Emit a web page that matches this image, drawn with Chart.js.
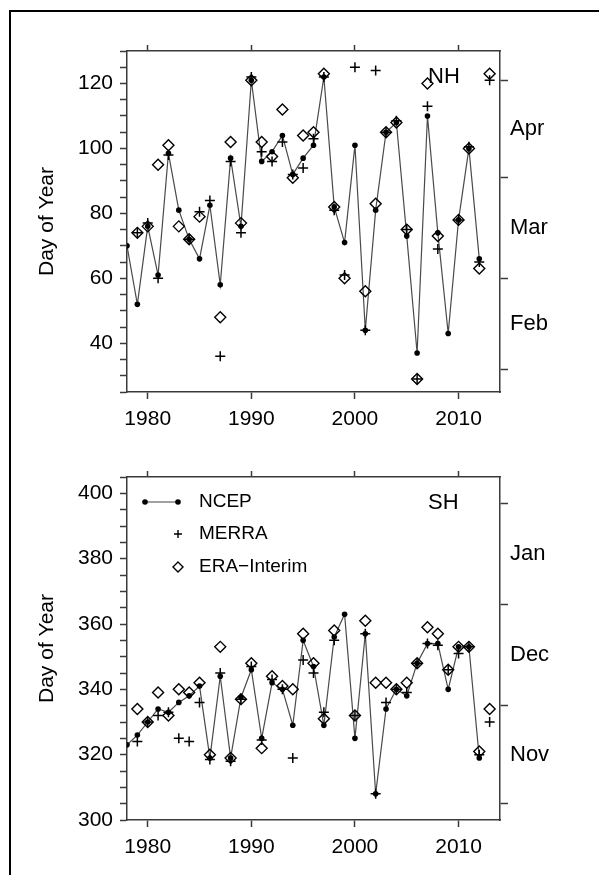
<!DOCTYPE html>
<html>
<head>
<meta charset="utf-8">
<script src="https://cdn.jsdelivr.net/npm/chart.js@4.4.1/dist/chart.umd.min.js"></script>
<style>
  html, body { margin: 0; padding: 0; background: #fff; }
  body { width: 599px; height: 875px; position: relative; overflow: hidden; }
  .frame { position: absolute; left: 9px; top: 10px; width: 640px; height: 900px; border: 2px solid #000; }
  .panel { position: absolute; left: 0; width: 599px; }
</style>
</head>
<body>
<div class="frame"></div>
<div class="panel" style="top:0; height:440px"><canvas id="nh"></canvas></div>
<div class="panel" style="top:426px; height:449px"><canvas id="sh"></canvas></div>
<script>
const years = [1978, 1979, 1980, 1981, 1982, 1983, 1984, 1985, 1986, 1987, 1988, 1989,
  1990, 1991, 1992, 1993, 1994, 1995, 1996, 1997, 1998, 1999, 2000, 2001,
  2002, 2003, 2004, 2005, 2006, 2007, 2008, 2009, 2010, 2011, 2012, 2013];

// Northern Hemisphere (day of year)
const nhNcep = [70, 52, 76, 61, 98.5, 81, 72, 66, 82.5, 58, 97, 76,
  121, 96, 99, 104, 92, 97, 101, 122, 82, 71, 101, 44,
  81, 105, 108, 73, 37, 110, 74, 43, 78, 100, 66, null];
const nhMerra = [null, 74, 77, 60, 98, null, 72, 80.5, 84, 36, 96, 74,
  122, 99, 96, 102, 92, 94, 103, 122, 81, 61, 125, 44,
  124, 105, 108.5, 75, 29, 113, 69, null, 78, 100.5, 65, 121];
const nhEra = [null, 74, 76, 95, 101, 76, 72, 79, null, 48, 102, 77,
  121, 102, 97.5, 112, 91, 104, 105, 123, 82, 60, null, 56,
  83, 105, 108, 75, 29, 120, 73, null, 78, 100, 63, 123];

// Southern Hemisphere (day of year, counted past 365)
const shNcep = [323, 326, 330, 334, 333, 336, 338, 341, 319, 344, 319, 337.5,
  346, 325, 342, 340, 329, 355, 347, 329, 356, 363, 325, 357,
  308, 334, 340, 338, 348, 354, 354, 340, 353, 353, 319, null];
const shMerra = [null, 324, 330, 332, 333, 325, 324, 336, 318.5, 345, 318, 337,
  347, 324.5, 343, 340, 319, 349, 345, 333, 355, null, 332, 357,
  308, 336, 340, 339, 348, 354, 353.5, 346, 351, 353, 320, 330];
const shEra = [null, 334, 330, 339, 332, 340, 339, 342, 320, 353, 319, 337,
  348, 322, 344, 341, 340, 357, 348, 331, 358, null, 332, 361,
  342, 342, 340, 342, 348, 359, 357, 346, 353, 353, 321, 334];

const yearTicks = [1980, 1990, 2000, 2010];
const nhLabels = [40, 60, 80, 100, 120];
const shLabels = [300, 320, 340, 360, 380, 400];
const nhMonthEdges = [32, 60, 91, 121];
const nhMonths = ['Feb', 'Mar', 'Apr'];
const shMonthEdges = [305, 335, 366, 397];
const shMonths = ['Nov', 'Dec', 'Jan'];

const FONT = '"Liberation Sans", Arial, Helvetica, sans-serif';
const AXIS = '#3a3a3a';

const panelText = {
  id: 'panelText',
  afterDatasetsDraw(chart, args, opts) {
    const ctx = chart.ctx, a = chart.chartArea;
    ctx.save();
    ctx.fillStyle = '#000';
    ctx.textBaseline = 'middle';
    ctx.font = '22px ' + FONT;
    ctx.fillText(opts.text, a.left + 301, a.top + 26);
    if (opts.legend) {
      const ds = chart.data.datasets;
      const x0 = a.left + 18, x1 = a.left + 51, tx = a.left + 72;
      const y1 = a.top + 25, y2 = a.top + 57, y3 = a.top + 90;
      ctx.font = '19px ' + FONT;
      // NCEP: line with dots
      ctx.strokeStyle = '#444';
      ctx.lineWidth = 1.2;
      ctx.beginPath(); ctx.moveTo(x0, y1); ctx.lineTo(x1, y1); ctx.stroke();
      ctx.fillStyle = '#000';
      [x0, x1].forEach(x => { ctx.beginPath(); ctx.arc(x, y1, 2.8, 0, Math.PI * 2); ctx.fill(); });
      // MERRA: plus
      ctx.strokeStyle = '#000';
      ctx.lineWidth = 1.4;
      ctx.beginPath();
      ctx.moveTo(x1 - 4, y2); ctx.lineTo(x1 + 4, y2);
      ctx.moveTo(x1, y2 - 4); ctx.lineTo(x1, y2 + 4);
      ctx.stroke();
      // ERA-Interim: diamond
      ctx.beginPath();
      ctx.moveTo(x1 - 5, y3); ctx.lineTo(x1, y3 - 5); ctx.lineTo(x1 + 5, y3); ctx.lineTo(x1, y3 + 5);
      ctx.closePath(); ctx.stroke();
      ctx.fillText(ds[2].label, tx, y1);
      ctx.fillText(ds[1].label, tx, y2);
      ctx.fillText(ds[0].label, tx, y3);
    }
    ctx.restore();
  }
};

function pts(vals) {
  return years.map((yr, i) => ({ x: yr, y: vals[i] }));
}

function makePanel(id, p) {
  const stepTicks = [];
  for (let v = p.min; v <= p.max; v += 5) stepTicks.push({ value: v });
  const rightTicks = [];
  p.edges.forEach((e, i) => {
    rightTicks.push({ value: e });
    if (i < p.months.length) rightTicks.push({ value: (e + p.edges[i + 1]) / 2, name: p.months[i] });
  });

  const xAxis = (pos) => ({
    type: 'linear', position: pos, min: 1978, max: 2014,
    afterBuildTicks: s => { s.ticks = yearTicks.map(v => ({ value: v })); },
    ticks: { display: pos === 'bottom', autoSkip: false, maxRotation: 0, padding: 8,
      color: '#000', font: { family: FONT, size: 21 }, callback: v => String(v) },
    grid: { drawOnChartArea: false, drawTicks: true, tickLength: pos === 'bottom' ? 7 : 6,
      color: AXIS, tickWidth: 1.5 },
    border: { display: true, color: AXIS, width: 1.5 },
    afterFit: s => { s.height = pos === 'bottom' ? p.bottomH : 10; }
  });

  return new Chart(document.getElementById(id), {
    type: 'line',
    data: {
      datasets: [
        { label: 'ERA\u2212Interim', data: pts(p.era), showLine: false, order: 1,
          pointStyle: 'rectRot', pointRadius: 5.5, pointHoverRadius: 5.5, pointBorderWidth: 1.4,
          borderColor: '#000', backgroundColor: 'rgba(0,0,0,0)' },
        { label: 'MERRA', data: pts(p.merra), showLine: false, order: 2,
          pointStyle: 'cross', pointRadius: 5, pointHoverRadius: 5, pointBorderWidth: 1.5,
          borderColor: '#000', backgroundColor: '#000' },
        { label: 'NCEP', data: pts(p.ncep), order: 3, borderColor: '#4a4a4a', borderWidth: 1.2,
          pointRadius: 2.8, pointHoverRadius: 2.8, pointBorderWidth: 0,
          pointBackgroundColor: '#000', pointBorderColor: '#000', tension: 0 }
      ]
    },
    options: {
      responsive: true,
      maintainAspectRatio: false,
      animation: false,
      events: [],
      layout: { padding: { left: 32, top: 41, right: 0, bottom: 0 } },
      plugins: {
        legend: { display: false },
        tooltip: { enabled: false },
        panelText: { text: p.text, legend: p.legend }
      },
      scales: {
        x: xAxis('bottom'),
        xTop: xAxis('top'),
        y: {
          position: 'left', min: p.min, max: p.max,
          afterBuildTicks: s => { s.ticks = stepTicks.map(t => ({ value: t.value })); },
          ticks: { autoSkip: false, padding: 7, color: '#000', font: { family: FONT, size: 21 },
            callback: v => p.labels.includes(v) ? String(v) : '' },
          grid: { drawOnChartArea: false, drawTicks: true, tickLength: 7, color: AXIS, tickWidth: 1.5 },
          border: { display: true, color: AXIS, width: 1.5 },
          title: { display: true, text: 'Day of Year', color: '#000',
            font: { family: FONT, size: 21 }, padding: { top: 3, bottom: 0 } },
          afterFit: s => { s.width = 95; }
        },
        yR: {
          position: 'right', min: p.min, max: p.max,
          afterBuildTicks: s => { s.ticks = rightTicks.map(t => ({ value: t.value })); },
          ticks: { autoSkip: false, padding: 2, color: '#000', font: { family: FONT, size: 22 },
            callback: v => { const t = rightTicks.find(r => r.value === v); return t && t.name ? t.name : ''; } },
          grid: { drawOnChartArea: false, drawTicks: true, tickLength: 8, tickWidth: 1.5,
            color: AXIS,
            tickColor: c => (c.tick && p.edges.includes(c.tick.value)) ? AXIS : 'rgba(0,0,0,0)' },
          border: { display: true, color: AXIS, width: 1.5 },
          afterFit: s => { s.width = 99; }
        }
      }
    },
    plugins: [panelText]
  });
}

makePanel('nh', { min: 25, max: 130, labels: nhLabels, edges: nhMonthEdges, months: nhMonths,
  ncep: nhNcep, merra: nhMerra, era: nhEra, text: 'NH', legend: false, bottomH: 48 });
makePanel('sh', { min: 300, max: 405, labels: shLabels, edges: shMonthEdges, months: shMonths,
  ncep: shNcep, merra: shMerra, era: shEra, text: 'SH', legend: true, bottomH: 55 });
</script>
</body>
</html>
